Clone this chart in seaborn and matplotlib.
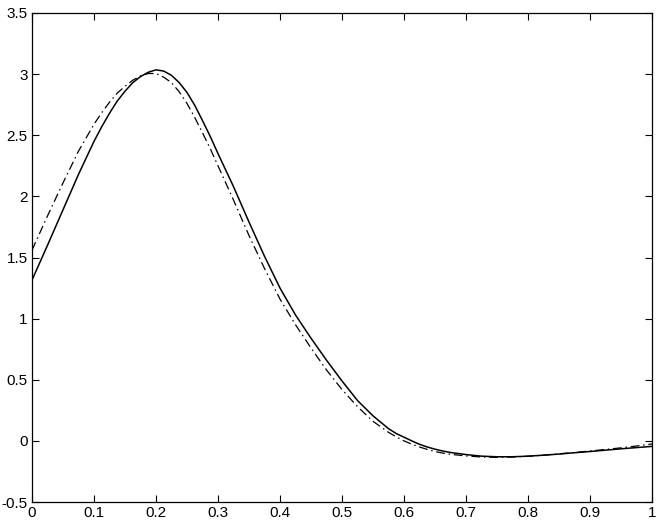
import matplotlib
matplotlib.use("Agg")
import matplotlib.pyplot as plt
import seaborn as sns
import pandas as pd

x_vals = [0.0, 0.025, 0.05, 0.075, 0.1, 0.1125, 0.125, 0.1375, 0.15, 0.1625, 0.175, 0.1875,
          0.2, 0.2125, 0.225, 0.2375, 0.25, 0.2625, 0.275, 0.2875, 0.3, 0.325, 0.35, 0.375,
          0.4, 0.425, 0.45, 0.475, 0.5, 0.525, 0.55, 0.575, 0.5875, 0.6, 0.6125, 0.625,
          0.6375, 0.65, 0.6625, 0.675, 0.7, 0.725, 0.75, 0.775, 0.8, 0.825, 0.85, 0.875,
          0.9, 0.925, 0.95, 0.975, 1.0]

solid_vals = [1.315, 1.60, 1.89, 2.18, 2.45, 2.57, 2.68, 2.78, 2.86, 2.93, 2.98, 3.015,
              3.035, 3.025, 2.99, 2.93, 2.85, 2.745, 2.62, 2.49, 2.35, 2.08, 1.79, 1.51,
              1.25, 1.03, 0.84, 0.66, 0.49, 0.33, 0.205, 0.10, 0.06, 0.03, 0.0, -0.028,
              -0.05, -0.068, -0.083, -0.095, -0.112, -0.125, -0.13, -0.13, -0.125, -0.117,
              -0.108, -0.097, -0.087, -0.076, -0.065, -0.055, -0.045]

dashdot_vals = [1.56, 1.84, 2.11, 2.37, 2.59, 2.685, 2.77, 2.845, 2.90, 2.95, 2.985, 3.005,
                3.005, 2.975, 2.93, 2.855, 2.76, 2.645, 2.52, 2.39, 2.25, 1.97, 1.68, 1.41,
                1.16, 0.95, 0.76, 0.58, 0.42, 0.28, 0.16, 0.07, 0.033, 0.0, -0.027, -0.05,
                -0.07, -0.087, -0.1, -0.11, -0.123, -0.132, -0.135, -0.132, -0.126, -0.117,
                -0.106, -0.095, -0.083, -0.07, -0.057, -0.042, -0.025]

x_ticks = [0, 0.1, 0.2, 0.3, 0.4, 0.5, 0.6, 0.7, 0.8, 0.9, 1]
x_ticklabels = ["0", "0.1", "0.2", "0.3", "0.4", "0.5", "0.6", "0.7", "0.8", "0.9", "1"]
y_ticks = [-0.5, 0, 0.5, 1, 1.5, 2, 2.5, 3, 3.5]
y_ticklabels = ["-0.5", "0", "0.5", "1", "1.5", "2", "2.5", "3", "3.5"]

sns.set_style("ticks")
plt.rcParams['font.family'] = ['Liberation Sans', 'DejaVu Sans']

df = pd.DataFrame({
    "x": x_vals * 2,
    "y": solid_vals + dashdot_vals,
    "series": ["solid"] * len(x_vals) + ["dashdot"] * len(x_vals),
})

fig = plt.figure(figsize=(6.61, 5.20), dpi=100)
ax = fig.add_axes([32 / 661, 18 / 520, 620 / 661, 489 / 520])

sns.lineplot(data=df[df.series == "solid"], x="x", y="y", ax=ax, color="black",
             linewidth=1.1, legend=False)
sns.lineplot(data=df[df.series == "dashdot"], x="x", y="y", ax=ax, color="black",
             linewidth=0.9, legend=False)
ax.lines[1].set_linestyle((0, (7, 3, 1.2, 3)))

ax.set_xlim(0, 1)
ax.set_ylim(-0.5, 3.5)
ax.set_xticks(x_ticks)
ax.set_xticklabels(x_ticklabels)
ax.set_yticks(y_ticks)
ax.set_yticklabels(y_ticklabels)
ax.set_xlabel("")
ax.set_ylabel("")
for s in ax.spines.values():
    s.set_visible(True)
    s.set_color("black")
    s.set_linewidth(0.9)
ax.tick_params(axis="both", direction="in", length=5, width=0.8, top=True, right=True,
               labelsize=11, colors="black", pad=3)

fig.savefig("out.png", dpi=100, facecolor="white")
